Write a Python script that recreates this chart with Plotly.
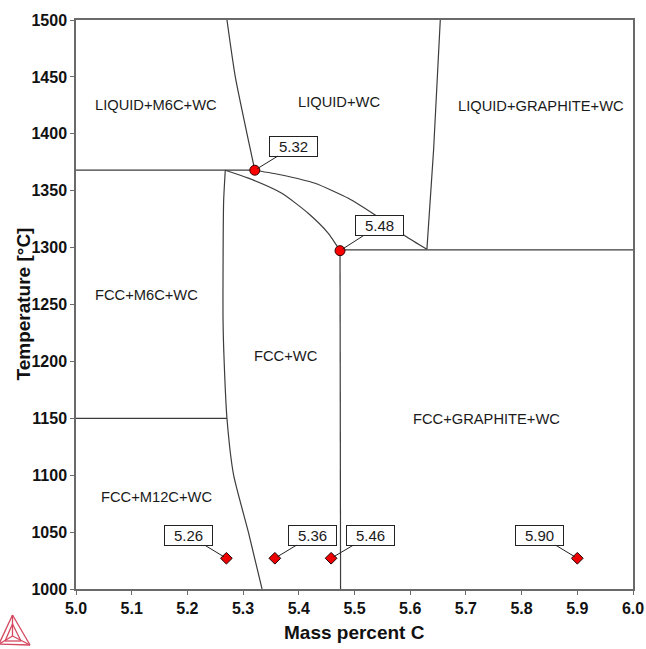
import plotly.graph_objects as go

# ---------------- data ----------------
# phase boundaries: mass percent C vs temperature (°C)
liq_m6c_x = [5.271, 5.286, 5.307, 5.321]
liq_m6c_t = [1500, 1450, 1400, 1368]

eut_1368_x = [5.0, 5.321]
eut_1368_t = [1368, 1368]

upper_curve_x = [5.321, 5.3695, 5.429, 5.489, 5.537, 5.591, 5.630]
upper_curve_t = [1368, 1363.8, 1356.5, 1343.3, 1328.6, 1310.2, 1298.5]

lower_curve_x = [5.268, 5.3095, 5.3695, 5.4173, 5.453, 5.474]
lower_curve_t = [1368, 1361, 1347.7, 1330, 1312.6, 1297.3]

liq_gr_x = [5.654, 5.642, 5.630]
liq_gr_t = [1500, 1385.8, 1298.5]

eut_1298_x = [5.474, 6.0]
eut_1298_t = [1298, 1298]

fcc_gr_x = [5.474, 5.475]
fcc_gr_t = [1297.3, 1000]

fcc_wc_x = [5.268, 5.265, 5.264, 5.266, 5.271, 5.283, 5.3095, 5.334]
fcc_wc_t = [1368, 1340, 1236, 1200, 1150, 1100, 1050, 1000]

eut_1150_x = [5.0, 5.271]
eut_1150_t = [1150, 1150]

# invariant points
inv_x = [5.321, 5.474]
inv_t = [1368, 1297.3]
inv_labels = ["5.32", "5.48"]

# alloy compositions
alloy_x = [5.27, 5.357, 5.458, 5.90]
alloy_t = [1027, 1027, 1027, 1027]
alloy_labels = ["5.26", "5.36", "5.46", "5.90"]

# phase-region labels
region_names = ["LIQUID+M6C+WC", "LIQUID+WC", "LIQUID+GRAPHITE+WC",
                "FCC+M6C+WC", "FCC+WC", "FCC+M12C+WC", "FCC+GRAPHITE+WC"]
region_x = [5.144, 5.4715, 5.835, 5.127, 5.3767, 5.145, 5.7365]
region_t = [1425.3, 1428, 1424.4, 1258.3, 1205, 1080.6, 1149.4]

x_ticks = [5.0, 5.1, 5.2, 5.3, 5.4, 5.5, 5.6, 5.7, 5.8, 5.9, 6.0]
y_ticks = [1000, 1050, 1100, 1150, 1200, 1250, 1300, 1350, 1400, 1450, 1500]

x_title = "Mass percent C"
y_title = "Temperature [°C]"

# ---------------- figure ----------------
LINE = "#3c3c3c"
FONT = "Liberation Sans, Arial, sans-serif"
PL, PR, PT, PB = 76, 633, 20, 589   # plot area in pixels

fig = go.Figure()

boundaries = [
    (liq_m6c_x, liq_m6c_t), (eut_1368_x, eut_1368_t),
    (upper_curve_x, upper_curve_t), (lower_curve_x, lower_curve_t),
    (liq_gr_x, liq_gr_t), (eut_1298_x, eut_1298_t),
    (fcc_gr_x, fcc_gr_t), (fcc_wc_x, fcc_wc_t), (eut_1150_x, eut_1150_t),
]
for bx, bt in boundaries:
    fig.add_trace(go.Scatter(x=bx, y=bt, mode="lines",
                             line=dict(color=LINE, width=1.2, shape="spline", smoothing=0.6),
                             showlegend=False, hoverinfo="skip"))

fig.add_trace(go.Scatter(x=inv_x, y=inv_t, mode="markers",
                         marker=dict(symbol="circle", size=10, color="#ff0000",
                                     line=dict(color="#300000", width=1)),
                         showlegend=False))
fig.add_trace(go.Scatter(x=alloy_x, y=alloy_t, mode="markers",
                         marker=dict(symbol="diamond", size=9, color="#ee0000",
                                     line=dict(color="#200000", width=1)),
                         showlegend=False))

annotations = []
for name, rx, rt in zip(region_names, region_x, region_t):
    annotations.append(dict(x=rx, y=rt, xref="x", yref="y", text=name, showarrow=False,
                            font=dict(family=FONT, size=14.7, color="#1a1a1a")))

def box_label(x, y, text, ax, ay):
    return dict(x=x, y=y, xref="x", yref="y", text=text, showarrow=True,
                arrowhead=0, arrowwidth=1, arrowcolor="#222", ax=ax, ay=ay,
                standoff=3, bgcolor="white", bordercolor="#222", borderwidth=1,
                borderpad=1, width=45, height=17,
                font=dict(family=FONT, size=15, color="#1a1a1a"))

inv_offsets = [(39, -24), (39, -25)]
for (ix, it, lab, (ax, ay)) in zip(inv_x, inv_t, inv_labels, inv_offsets):
    annotations.append(box_label(ix, it, lab, ax, ay))

alloy_offsets = [(-38, -23), (38, -23), (39, -23), (-38, -23)]
for (axv, at, lab, (ax, ay)) in zip(alloy_x, alloy_t, alloy_labels, alloy_offsets):
    annotations.append(box_label(axv, at, lab, ax, ay))

def px2paper(px, py):
    return ((px - PL) / (PR - PL), (PB - py) / (PB - PT))

# axis titles as annotations (exact placement)
tx, ty = px2paper((PL + PR) / 2, 633)
annotations.append(dict(x=tx, y=ty, xref="paper", yref="paper", text=f"<b>{x_title}</b>",
                        showarrow=False, xanchor="center", yanchor="middle",
                        font=dict(family=FONT, size=19, color="#111")))
tx, ty = px2paper(23, (PT + PB) / 2)
annotations.append(dict(x=tx, y=ty, xref="paper", yref="paper", text=f"<b>{y_title}</b>",
                        showarrow=False, xanchor="center", yanchor="middle", textangle=-90,
                        font=dict(family=FONT, size=19, color="#111")))

# Thermo-Calc style logo (decoration) in paper coordinates
LOGO = "#d4485f"
apex = (12.5, 615)
bl = (-1, 644)
br = (30, 645)
cen = (12.5, 636)
ia = (12.5, 624)
ibl = (5, 641)
ibr = (21, 641)
segs = [(apex, bl), (apex, br), (bl, br), (apex, cen), (cen, bl), (cen, br),
        (ia, ibl), (ia, ibr), (ibl, ibr)]
shapes = []
for p, q in segs:
    x0, y0 = px2paper(*p)
    x1, y1 = px2paper(*q)
    shapes.append(dict(type="line", xref="paper", yref="paper", x0=x0, y0=y0, x1=x1, y1=y1,
                       line=dict(color=LOGO, width=1.3)))

axis_common = dict(showgrid=False, zeroline=False, showline=True, mirror=True,
                   linecolor="#6a6a6a", linewidth=1.5, ticks="outside", ticklen=4,
                   tickcolor="#6a6a6a", tickwidth=1, automargin=False,
                   tickfont=dict(family=FONT, size=16, color="#111"))

fig.update_layout(
    width=646, height=649,
    margin=dict(l=PL, r=646 - PR, t=PT, b=649 - PB),
    paper_bgcolor="white", plot_bgcolor="white",
    xaxis=dict(range=[5.0, 6.0], tickvals=x_ticks,
               ticktext=[f"<b>{v:.1f}</b>" for v in x_ticks],
               **axis_common),
    yaxis=dict(range=[1000, 1500], tickvals=y_ticks,
               ticktext=[f"<b>{v}</b>" for v in y_ticks],
               **axis_common),
    annotations=annotations,
    shapes=shapes,
)

fig.write_html("out.html")
